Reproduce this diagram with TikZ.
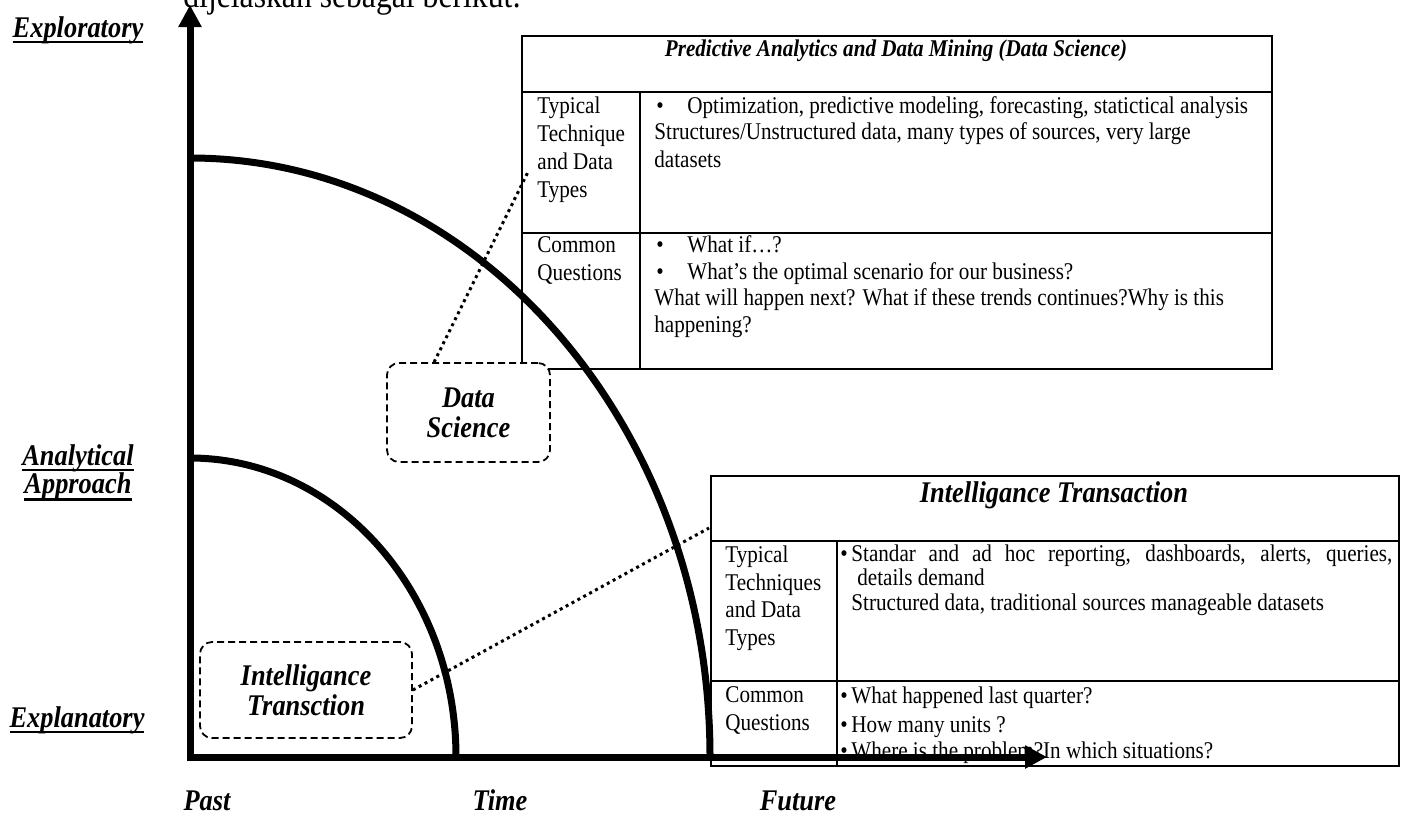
\documentclass[tikz,border=0pt]{standalone}
\usepackage{fontspec}
\setmainfont[FakeStretch=0.88]{Liberation Serif}
\usetikzlibrary{arrows.meta}
% underlined axis caption: #1 = drop of the rule below the baseline
\newcommand\ulabel[2][3pt]{\setbox0\hbox{#2}\rlap{\rule[-#1]{\wd0}{1.1pt}}\box0}
\begin{document}
\begin{tikzpicture}[x=0.5pt, y=-0.5pt,
  frame/.style={line width=1.1pt},
  rule/.style={line width=0.9pt},
  cell/.style={inner sep=0pt, anchor=base west, font=\fontsize{12}{14}\selectfont},
  head/.style={inner sep=0pt, anchor=base, font=\bfseries\itshape\fontsize{12}{14}\selectfont},
  big/.style={inner sep=0pt, anchor=base, font=\bfseries\itshape\fontsize{15}{17}\selectfont},
  ring/.style={line width=3.5pt},
  axis/.style={line width=3.5pt, line join=miter,
    {Triangle[length=11pt,width=11pt]}-{Triangle[length=11pt,width=11pt]}},
  tag/.style={draw, dash pattern=on 3.5pt off 2pt, line width=0.9pt,
    rounded corners=6pt, fill=white, inner sep=0pt, align=center,
    font=\bfseries\itshape\fontsize{15}{15}\selectfont},
  leader/.style={line width=1.5pt, dash pattern=on 1.5pt off 1.85pt},
]
\useasboundingbox (0,0) rectangle (1411,814);
\fill[white] (0,0) rectangle (1411,814);

% sentence running above the figure
\node[inner sep=0pt, anchor=base west, font=\fontsize{18}{20}\selectfont]
  (intro) at (183,7) {dijelaskan sebagai berikut:};

% ---------- Data Science table ----------
\node[draw, frame, inner sep=0pt, anchor=north west,
  minimum width=375pt, minimum height=166.5pt] (dstab) at (521,35) {};
\draw[rule] (521,92) -- (1271,92);
\draw[rule] (521,233) -- (1271,233);
\draw[rule] (640,92) -- (640,368);

\node[head] (dshead) at (896,56) {Predictive Analytics and Data Mining (Data Science)};
\node[cell] (ds1) at (537,113) {Typical};
\node[cell] (ds2) at (537,141) {Technique};
\node[cell] (ds3) at (537,169) {and Data};
\node[cell] (ds4) at (537,197) {Types};
\node[cell] (dsb1) at (656,113) {\textbullet};
\node[cell] (dst1) at (687,113) {Optimization, predictive modeling, forecasting, statictical analysis};
\node[cell] (dst2) at (654,139) {Structures/Unstructured data, many types of sources, very large};
\node[cell] (dst3) at (654,167) {datasets};
\node[cell] (ds5) at (537,252) {Common};
\node[cell] (ds6) at (537,280) {Questions};
\node[cell] (dsb2) at (656,252) {\textbullet};
\node[cell] (dsq1) at (687,252) {What if…?};
\node[cell] (dsb3) at (656,279) {\textbullet};
\node[cell] (dsq2) at (687,279) {What’s the optimal scenario for our business?};
\node[cell] (dsq3) at (654,305) {What will happen next? What if these trends continues?Why is this};
\node[cell] (dsq4) at (654,332) {happening?};

% ---------- Intelligance Transaction table ----------
\node[draw, frame, inner sep=0pt, anchor=north west,
  minimum width=344pt, minimum height=145pt] (ittab) at (710,475) {};
\draw[rule] (710,541) -- (1398,541);
\draw[rule] (710,681) -- (1398,681);
\draw[rule] (837,541) -- (837,765);

\node[big] (ithead) at (1054,502) {Intelligance Transaction};
\node[cell] (it1) at (725,562) {Typical};
\node[cell] (it2) at (725,590) {Techniques};
\node[cell] (it3) at (725,617) {and Data};
\node[cell] (it4) at (725,645) {Types};
\node[cell] (itb1) at (840,561) {\textbullet};
\node[cell] (itt1) at (851,561) {\makebox[270.5pt][s]{Standar and ad hoc reporting, dashboards, alerts, queries,}};
\node[cell] (itt2) at (857,585) {details demand};
\node[cell] (itt3) at (851,610) {Structured data, traditional sources manageable datasets};
\node[cell] (it5) at (725,702) {Common};
\node[cell] (it6) at (725,730) {Questions};
\node[cell] (itb2) at (840,703) {\textbullet};
\node[cell] (itq1) at (851,703) {What happened last quarter?};
\node[cell] (itb3) at (840,732) {\textbullet};
\node[cell] (itq2) at (851,732) {How many units ?};
\node[cell] (itb4) at (840,758) {\textbullet};
\node[cell] (itq3) at (851,758) {Where is the problem?In which situations?};

% ---------- quarter rings ----------
\draw[ring] (456,757) arc[start angle=0, end angle=90, x radius=133pt, y radius=149.5pt];
\draw[ring] (710,757) arc[start angle=0, end angle=90, x radius=260pt, y radius=299.5pt];

% ---------- axes ----------
\coordinate (ytip) at (190,5);
\coordinate (O) at (190,757);
\coordinate (xtip) at (1047,757);
\draw[axis] (ytip) -- (O) -- (xtip);

% ---------- axis captions ----------
\node[big] (lexp) at (78,37) {\ulabel{Exploratory}};
\node[big] (lana) at (78,465) {\ulabel{Analytical}};
\node[big] (lapp) at (78,493) {\ulabel[3.8pt]{Approach}};
\node[big] (lexn) at (77,727) {\ulabel{Explanatory}};
\node[big] (lpast) at (207,810) {Past};
\node[big] (ltime) at (500,810) {Time};
\node[big] (lfut) at (798,810) {Future};

% ---------- region tags and their leaders ----------
\coordinate (dsend) at (528,172);
\coordinate (itend) at (709,528);
\node[tag, minimum width=81.5pt, minimum height=49.5pt] (dsbox) at (468.5,412.5) {Data\\Science};
\node[tag, minimum width=106pt, minimum height=48pt] (itbox) at (306,690) {Intelligance\\Transction};
\draw[leader] (dsbox.north west) ++(48,0) -- (dsend);
\draw[leader] (itbox.east) -- (itend);
\end{tikzpicture}
\end{document}
